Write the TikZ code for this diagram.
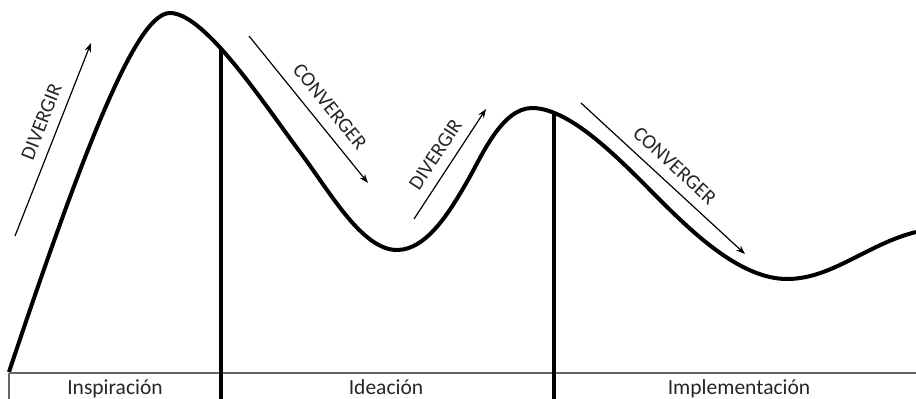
\documentclass[tikz,border=0pt]{standalone}
\usepackage{fontspec}
\setmainfont{Carlito}
\usetikzlibrary{arrows.meta}
\begin{document}
\begin{tikzpicture}[x=1pt,y=-1pt,
  curve/.style={line width=4pt,line join=round},
  divider/.style={line width=3.2pt},
  baseline line/.style={line width=1.1pt,draw=black!60},
  phasearrow/.style={line width=1.2pt,-{Stealth[length=9pt,width=6.5pt]}},
  phaselabel/.style={font=\fontsize{20.5}{20.5}\selectfont,text=black!85,inner sep=1pt},
  stage/.style={font=\fontsize{21.5}{21.5}\selectfont,text=black!85,anchor=base,inner sep=0pt}]
\useasboundingbox (0,0) rectangle (916,399);
% key points of the curve
\coordinate (p0) at (9,372);
\coordinate (pk1) at (170,13);
\coordinate (i1) at (300,152);
\coordinate (tr1) at (397,250);
\coordinate (i2) at (468,180);
\coordinate (pk2) at (532,108);
\coordinate (i3) at (660,200);
\coordinate (tr2) at (787,279);
\coordinate (pend) at (916,232);
% main curve
\draw[curve] (p0)
  .. controls (94,117) and (140,13) .. (pk1)
  .. controls (205,13) and (264,104) .. (i1)
  .. controls (330,192) and (362,250) .. (tr1)
  .. controls (427,250) and (450.6,210.4) .. (i2)
  .. controls (481.9,155.7) and (502,108) .. (pk2)
  .. controls (572,108) and (624.6,164.6) .. (i3)
  .. controls (695.4,235.4) and (742,279) .. (tr2)
  .. controls (832,279) and (867.5,244) .. (pend);
% axis and dividers
\coordinate (b0) at (9,373);
\coordinate (b0d) at (9,399);
\coordinate (bend) at (916,373);
\coordinate (v1t) at (221,49);
\coordinate (v1b) at (221,399);
\coordinate (v2t) at (554,112);
\coordinate (v2b) at (554,399);
\draw[baseline line] (b0) -- (bend);
\draw[baseline line] (b0) -- (b0d);
\draw[divider] (v1t) -- (v1b);
\draw[divider] (v2t) -- (v2b);
% arrows
\coordinate (d1s) at (15,236); \coordinate (d1e) at (91,43);
\coordinate (c1s) at (249,36); \coordinate (c1e) at (368,183);
\coordinate (d2s) at (414,219); \coordinate (d2e) at (486,109);
\coordinate (c2s) at (581,103); \coordinate (c2e) at (745,254);
\draw[phasearrow] (d1s) -- node[phaselabel,pos=0.56,sloped,above=9pt] (l1) {DIVERGIR} (d1e);
\draw[phasearrow] (c1s) -- node[phaselabel,pos=0.56,sloped,above=10pt] (l2) {CONVERGER} (c1e);
\draw[phasearrow] (d2s) -- node[phaselabel,pos=0.5,sloped,above=9pt] (l3) {DIVERGIR} (d2e);
\draw[phasearrow] (c2s) -- node[phaselabel,pos=0.5,sloped,above=9pt] (l4) {CONVERGER} (c2e);
% stage labels
\node[stage] (s1) at (115,394) {Inspiración};
\node[stage] (s2) at (386,394) {Ideación};
\node[stage] (s3) at (739,394) {Implementación};
\end{tikzpicture}
\end{document}
